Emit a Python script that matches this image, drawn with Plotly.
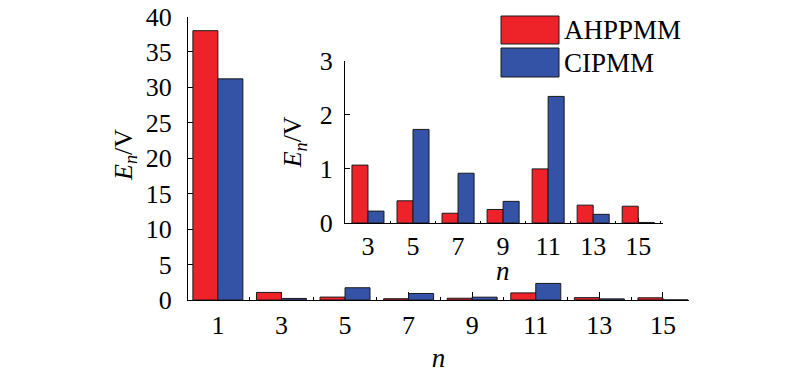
import plotly.graph_objects as go

# ---- data ----
harmonic_orders = [1, 3, 5, 7, 9, 11, 13, 15]
ahppmm_values = [38.0, 1.07, 0.41, 0.18, 0.25, 1.00, 0.33, 0.31]
cipmm_values = [31.2, 0.22, 1.73, 0.92, 0.40, 2.34, 0.16, 0.01]

inset_orders = harmonic_orders[1:]
inset_ahppmm = ahppmm_values[1:]
inset_cipmm = cipmm_values[1:]

series_names = ["AHPPMM", "CIPMM"]
main_tick_labels = [str(v) for v in harmonic_orders]
inset_tick_labels = [str(v) for v in inset_orders]

RED = "#EE2229"
BLUE = "#3452A6"
EDGE = "#1a1a1a"
FONT = "Liberation Serif, Times New Roman, serif"

W, H = 800, 377
PAGE_OFFSET = 8  # default body margin of the page

def px_x(p):
    return (p - PAGE_OFFSET) / W

def px_y(p):
    return 1 - (p - PAGE_OFFSET) / H

main_w = 0.786
inset_w = 0.711

fig = go.Figure()
fig.add_trace(go.Bar(x=harmonic_orders, y=ahppmm_values, name=series_names[0],
                     width=main_w, offset=-main_w, marker=dict(color=RED, line=dict(color=EDGE, width=1)),
                     xaxis="x", yaxis="y", showlegend=False))
fig.add_trace(go.Bar(x=harmonic_orders, y=cipmm_values, name=series_names[1],
                     width=main_w, offset=0, marker=dict(color=BLUE, line=dict(color=EDGE, width=1)),
                     xaxis="x", yaxis="y", showlegend=False))
fig.add_trace(go.Bar(x=inset_orders, y=inset_ahppmm, name=series_names[0],
                     width=inset_w, offset=-inset_w, marker=dict(color=RED, line=dict(color=EDGE, width=1)),
                     xaxis="x2", yaxis="y2", showlegend=False))
fig.add_trace(go.Bar(x=inset_orders, y=inset_cipmm, name=series_names[1],
                     width=inset_w, offset=0, marker=dict(color=BLUE, line=dict(color=EDGE, width=1)),
                     xaxis="x2", yaxis="y2", showlegend=False))

axis_common = dict(showline=True, linecolor="black", linewidth=1.2, showgrid=False, zeroline=False,
                   ticks="inside", tickcolor="black", tickwidth=1, layer="below traces",
                   automargin=False, ticklabeloverflow="allow",
                   tickfont=dict(family=FONT, size=26, color="black"))

ytitle = "<i>E</i><sub><i>n</i></sub>/V"

fig.update_layout(
    width=W, height=H,
    margin=dict(l=0, r=0, t=0, b=0, autoexpand=False),
    paper_bgcolor="white", plot_bgcolor="rgba(0,0,0,0)",
    barmode="overlay",
    font=dict(family=FONT, color="black"),
    xaxis=dict(**axis_common, domain=[px_x(188), px_x(689)], range=[0.06, 15.82],
               tickmode="array", tickvals=harmonic_orders, ticktext=main_tick_labels,
               ticklen=8, ticklabelstandoff=2,
               minor=dict(tick0=0, dtick=2, ticks="inside", ticklen=3, tickcolor="black"),
               title=dict(text="<i>n</i>", font=dict(family=FONT, size=27), standoff=8),
               anchor="y"),
    yaxis=dict(**axis_common, domain=[px_y(300), px_y(16.5)], range=[0, 40],
               tickmode="array", tickvals=[0, 5, 10, 15, 20, 25, 30, 35, 40],
               ticklen=9, ticklabelstandoff=10,
               title=dict(text=""),
               anchor="x"),
    xaxis2=dict(**axis_common, domain=[px_x(345), px_x(663)], range=[1.98, 16.1],
                tickmode="array", tickvals=inset_orders, ticktext=inset_tick_labels,
                ticklen=5, ticklabelstandoff=0,
                minor=dict(tick0=0, dtick=2, ticks="inside", ticklen=2, tickcolor="black"),
                title=dict(text=""),
                anchor="y2"),
    yaxis2=dict(**axis_common, domain=[px_y(223), px_y(60.7)], range=[0, 3],
                tickmode="array", tickvals=[0, 1, 2, 3],
                ticklen=5, ticklabelstandoff=6,
                title=dict(text=ytitle, font=dict(family=FONT, size=26), standoff=10),
                anchor="x2"),
)

# main y-axis title
fig.add_annotation(xref="paper", yref="paper", x=px_x(125), y=px_y(155),
                   text=ytitle, textangle=-90, showarrow=False,
                   xanchor="center", yanchor="middle",
                   font=dict(family=FONT, size=26, color="black"))

# inset x-axis title
fig.add_annotation(xref="paper", yref="paper", x=px_x(503), y=px_y(271),
                   text="<i>n</i>", showarrow=False, xanchor="center", yanchor="middle",
                   font=dict(family=FONT, size=27, color="black"))

# custom legend
legend_items = [(series_names[0], RED, 16, 44), (series_names[1], BLUE, 48, 77)]
for name, color, top, bottom in legend_items:
    fig.add_shape(type="rect", xref="paper", yref="paper",
                  x0=px_x(501), x1=px_x(559), y0=px_y(bottom), y1=px_y(top),
                  fillcolor=color, line=dict(color=EDGE, width=1))
    fig.add_annotation(xref="paper", yref="paper", x=px_x(562), y=px_y((top + bottom) / 2),
                       text=name, showarrow=False, xanchor="left", yanchor="middle",
                       font=dict(family=FONT, size=27, color="black"))

fig.write_html("out.html")
